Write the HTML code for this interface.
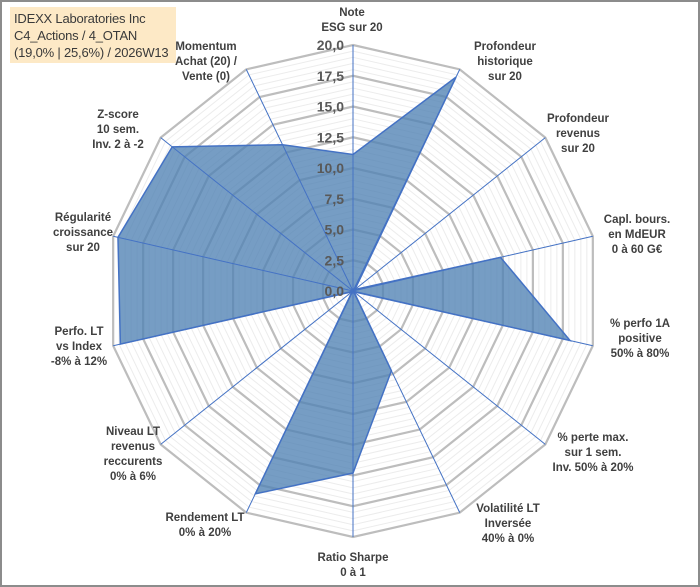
<!DOCTYPE html>
<html><head><meta charset="utf-8"><style>
body{margin:0;background:#fff}
#wrap{position:relative;width:700px;height:587px;overflow:hidden;font-family:"Liberation Sans",sans-serif}
#frame{position:absolute;left:0;top:0;width:696px;height:583px;border:2px solid #8c8c8c}
#title{position:absolute;left:10px;top:7px;width:166px;height:56px;background:#fde9c6;color:#3a3a3a;font-size:13px;line-height:17px;padding:3px 4px;box-sizing:border-box;letter-spacing:-0.2px}
svg{position:absolute;left:0;top:0}
</style></head><body>
<div id="wrap">
<div id="frame"></div>
<div id="title">IDEXX Laboratories Inc<br>C4_Actions / 4_OTAN<br>(19,0% | 25,6%) / 2026W13</div>
<svg id="chart" width="700" height="587"></svg>
</div>
<script>
const categories=[["Note","ESG sur 20"],["Profondeur","historique","sur 20"],["Profondeur","revenus","sur 20"],["Capl. bours.","en MdEUR","0 à 60 G€"],["% perfo 1A","positive","50% à 80%"],["% perte max.","sur 1 sem.","Inv. 50% à 20%"],["Volatilité LT","Inversée","40% à 0%"],["Ratio Sharpe","0 à 1"],["Rendement LT","0% à 20%"],["Niveau LT","revenus","reccurents","0% à 6%"],["Perfo. LT","vs Index","-8% à 12%"],["Régularité","croissance","sur 20"],["Z-score","10 sem.","Inv. 2 à -2"],["Momentum","Achat (20) /","Vente (0)"]];
const values=[11.1,19.3,0.2,12.3,18.1,0.1,7.2,14.8,18.3,0.1,19.4,19.6,18.8,13.2];
const tickLabels=["0,0","2,5","5,0","7,5","10,0","12,5","15,0","17,5","20,0"];
const maxVal=20;
const labelPos=[[352,12],[505,46],[578,118],[637,219],[640,323],[593,437],[508,508],[353,557],[205,517],[133,431],[79,331],[83,217],[118,114],[206,46]];

const svg=document.getElementById('chart');
const NS='http://www.w3.org/2000/svg';
const cx=353,cy=291,R=246,N=categories.length;
function ang(i){return i*2*Math.PI/N;}
function pt(i,v){const r=v/maxVal*R;return [cx+r*Math.sin(ang(i)),cy-r*Math.cos(ang(i))];}
function mk(tag,attrs){const e=document.createElementNS(NS,tag);for(const k in attrs)e.setAttribute(k,attrs[k]);svg.appendChild(e);return e;}
// minor rings
for(let v=0.5;v<=maxVal+0.01;v+=0.5){
  const major=Math.abs(v/2.5-Math.round(v/2.5))<0.01;
  const p=[];for(let i=0;i<N;i++)p.push(pt(i,v).join(','));
  const e=mk('polygon',{points:p.join(' '),fill:'none',stroke:major?'#bdbdbd':'#ececec','stroke-width':major?2.2:1});
  
  
}
// data area
const dp=values.map((v,i)=>pt(i,v).join(',')).join(' ');
const area=mk('polygon',{points:dp,fill:'#4f81b4','fill-opacity':0.78,stroke:'#4472c4','stroke-width':1.5});


// axes
for(let i=0;i<N;i++){
  const [x,y]=pt(i,maxVal);
  const l=mk('line',{x1:cx,y1:cy,x2:x,y2:y,stroke:'#4472c4','stroke-width':1});
  
  
}
// tick labels
tickLabels.forEach((t,k)=>{
  const v=k*2.5;const y=cy-v/maxVal*R;
  const e=mk('text',{x:cx-9,y:y+5,'text-anchor':'end','font-size':14,'font-weight':'bold',fill:'#595959'});
  e.textContent=t;
  
  
});
// category labels
categories.forEach((lines,i)=>{
  const [x,y]=labelPos[i];
  const e=mk('text',{x:x,y:y+4,'text-anchor':'middle','font-size':11.5,'font-weight':'bold',fill:'#404040'});
  lines.forEach((s,j)=>{const ts=document.createElementNS(NS,'tspan');ts.setAttribute('x',x);ts.setAttribute('dy',j?15:0);ts.textContent=s;e.appendChild(ts);});
  
  
});
</script>
</body></html>
